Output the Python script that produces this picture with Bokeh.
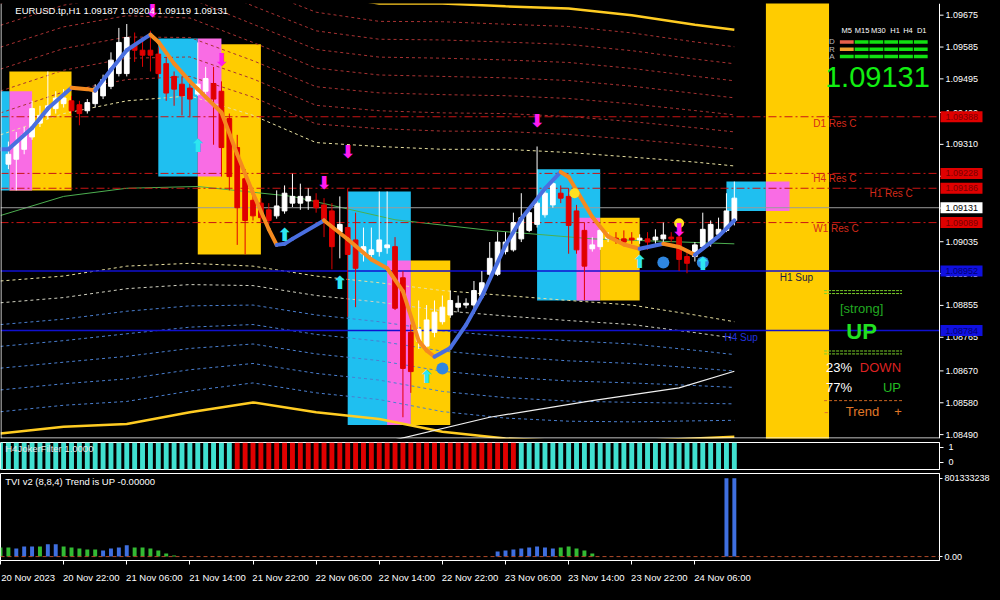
from bokeh.plotting import figure
from bokeh.models import (Range1d, FixedTicker, Span, LinearAxis, GlobalInlineStyleSheet)
from bokeh.layouts import column
from bokeh.embed import file_html
from bokeh.resources import INLINE
from bokeh.core.properties import value

FONT = "Liberation Sans"

# ---------------- data ----------------
bar = list(range(1, 94))
open_ = [1.09254, 1.09268, 1.09296, 1.09331, 1.09370, 1.09392, 1.09411, 1.09425, 1.09433, 1.09422,
         1.09405, 1.09425, 1.09447, 1.09474, 1.09510, 1.09510, 1.09590, 1.09576, 1.09576, 1.09565,
         1.09538, 1.09502, 1.09480, 1.09469, 1.09452, 1.09460, 1.09482, 1.09460, 1.09383, 1.09301,
         1.09213, 1.09152, 1.09144, 1.09125, 1.09108, 1.09122, 1.09144, 1.09144, 1.09150, 1.09152,
         1.09139, 1.09122, 1.09062, 1.09075, 1.09040, 1.09001, 1.08999, 1.09007, 1.09018, 1.09021,
         1.08933, 1.08779, 1.08754, 1.08740, 1.08779, 1.08809, 1.08828, 1.08850, 1.08856, 1.08856,
         1.08883, 1.08943, 1.08943, 1.09007, 1.09012, 1.09043, 1.09067, 1.09084, 1.09111, 1.09139,
         1.09172, 1.09163, 1.09122, 1.09067, 1.09015, 1.09021, 1.09043, 1.09045, 1.09043, 1.09045,
         1.09040, 1.09043, 1.09040, 1.09043, 1.09048, 1.09048, 1.08993, 1.08993, 1.09021, 1.09034,
         1.09056, 1.09067, 1.09095]
high = [1.09318, 1.09345, 1.09359, 1.09433, 1.09419, 1.09516, 1.09460, 1.09466, 1.09447, 1.09433,
        1.09438, 1.09480, 1.09507, 1.09570, 1.09639, 1.09650, 1.09626, 1.09612, 1.09631, 1.09584,
        1.09557, 1.09516, 1.09502, 1.09488, 1.09598, 1.09529, 1.09529, 1.09488, 1.09397, 1.09337,
        1.09240, 1.09172, 1.09158, 1.09144, 1.09180, 1.09194, 1.09227, 1.09199, 1.09186, 1.09172,
        1.09158, 1.09144, 1.09163, 1.09186, 1.09117, 1.09075, 1.09075, 1.09177, 1.09177, 1.09048,
        1.08952, 1.08801, 1.08869, 1.08856, 1.08869, 1.08883, 1.08897, 1.08883, 1.08875, 1.08924,
        1.08952, 1.09034, 1.09062, 1.09062, 1.09117, 1.09172, 1.09125, 1.09304, 1.09186, 1.09213,
        1.09194, 1.09186, 1.09139, 1.09089, 1.09048, 1.09084, 1.09062, 1.09062, 1.09067, 1.09062,
        1.09056, 1.09062, 1.09070, 1.09089, 1.09062, 1.09089, 1.09007, 1.09034, 1.09117, 1.09095,
        1.09103, 1.09172, 1.09205]
low = [1.09240, 1.09180, 1.09282, 1.09323, 1.09359, 1.09381, 1.09397, 1.09414, 1.09397, 1.09364,
       1.09397, 1.09414, 1.09438, 1.09466, 1.09502, 1.09502, 1.09543, 1.09529, 1.09516, 1.09496,
       1.09433, 1.09419, 1.09392, 1.09386, 1.09447, 1.09447, 1.09309, 1.09219, 1.09180, 1.09026,
       1.08999, 1.09095, 1.09089, 1.09084, 1.09100, 1.09114, 1.09133, 1.09125, 1.09125, 1.09117,
       1.09048, 1.08957, 1.08988, 1.08823, 1.08850, 1.08979, 1.08985, 1.08993, 1.09001, 1.08842,
       1.08539, 1.08608, 1.08732, 1.08732, 1.08765, 1.08801, 1.08820, 1.08836, 1.08847, 1.08847,
       1.08875, 1.08938, 1.08938, 1.08999, 1.09007, 1.09034, 1.09062, 1.09075, 1.09103, 1.09131,
       1.09144, 1.09001, 1.09001, 1.08869, 1.09007, 1.09012, 1.09034, 1.09029, 1.09026, 1.09029,
       1.09029, 1.09012, 1.09029, 1.09034, 1.09034, 1.08952, 1.08946, 1.08979, 1.09012, 1.09021,
       1.09048, 1.09062, 1.09081]
close = [1.09282, 1.09315, 1.09337, 1.09411, 1.09392, 1.09419, 1.09441, 1.09441, 1.09405, 1.09397,
         1.09428, 1.09469, 1.09493, 1.09548, 1.09598, 1.09612, 1.09576, 1.09562, 1.09562, 1.09510,
         1.09455, 1.09466, 1.09447, 1.09438, 1.09480, 1.09496, 1.09438, 1.09301, 1.09219, 1.09131,
         1.09095, 1.09108, 1.09103, 1.09095, 1.09136, 1.09172, 1.09163, 1.09163, 1.09163, 1.09131,
         1.09097, 1.09021, 1.09084, 1.08999, 1.08960, 1.09021, 1.09012, 1.09040, 1.09026, 1.08847,
         1.08677, 1.08668, 1.08787, 1.08814, 1.08836, 1.08850, 1.08869, 1.08861, 1.08861, 1.08897,
         1.08919, 1.08988, 1.09034, 1.09034, 1.09089, 1.09103, 1.09117, 1.09144, 1.09172, 1.09199,
         1.09158, 1.09081, 1.09012, 1.08966, 1.09026, 1.09067, 1.09048, 1.09040, 1.09034, 1.09040,
         1.09045, 1.09034, 1.09048, 1.09054, 1.09043, 1.08985, 1.08974, 1.09026, 1.09070, 1.09084,
         1.09070, 1.09122, 1.09158]

# smooth trend line (key points)
trend_x = [0, 1, 4, 6, 9, 11, 12, 14, 16, 18, 19, 20, 22, 24, 25, 28, 30, 32, 34, 35, 36, 37, 41,
           44, 47, 49, 51, 53, 54, 55, 57, 59, 61, 64, 66, 69, 71, 72, 75, 77, 79, 81, 84, 86, 88, 91, 93]
trend_y = [1.09296, 1.09296, 1.09356, 1.09411, 1.09470, 1.09466, 1.09462, 1.09521, 1.09576, 1.09606,
           1.09620, 1.09600, 1.09538, 1.09488, 1.09466, 1.09400, 1.09282, 1.09172, 1.09070, 1.09026,
           1.09029, 1.09043, 1.09095, 1.09042, 1.08985, 1.08960, 1.08895, 1.08755, 1.08728, 1.08710,
           1.08735, 1.08800, 1.08880, 1.09025, 1.09100, 1.09185, 1.09232, 1.09218, 1.09105, 1.09050,
           1.09027, 1.09015, 1.09029, 1.09020, 1.08998, 1.09050, 1.09095]

# envelope bands (inner and outer lines; the lines between are evenly spaced)
env_x = [0, 8, 16, 24, 32, 40, 48, 56, 64, 72, 80, 88, 93]
upper_inner = [1.09337, 1.09397, 1.09433, 1.09447, 1.09392, 1.09315, 1.09304, 1.09296, 1.09296,
               1.09287, 1.09274, 1.09260, 1.09249]
upper_outer = [1.09832, 1.09887, 1.09914, 1.09887, 1.09804, 1.09736, 1.09708, 1.09708, 1.09700,
               1.09694, 1.09675, 1.09648, 1.09634]
lower_inner = [1.08924, 1.08938, 1.08966, 1.08974, 1.08966, 1.08938, 1.08919, 1.08897, 1.08883,
               1.08869, 1.08856, 1.08828, 1.08809]
lower_outer = [1.08493, 1.08512, 1.08520, 1.08553, 1.08581, 1.08553, 1.08534, 1.08498, 1.08479,
               1.08471, 1.08471, 1.08479, 1.08484]

# moving averages
green_x = [0, 8, 16, 25, 37, 50, 62, 75, 93]
green_y = [1.09109, 1.09163, 1.09186, 1.09191, 1.09163, 1.09097, 1.09067, 1.09043, 1.09029]
white_x = [49, 62, 75, 86, 93]
white_y = [1.08470, 1.08539, 1.08586, 1.08622, 1.08669]

# zones (boxes)
box_left = [1.125, 1.125, 0, 25, 20, 25, 44, 49, 52, 68, 73, 76, 92]
box_right = [9, 4, 1.125, 33, 25, 28, 52, 52, 57, 76, 76, 81, 97]
box_top = [1.09516, 1.09460, 1.09460, 1.09593, 1.09609, 1.09609, 1.09177, 1.08982, 1.08982,
           1.09240, 1.09103, 1.09103, 1.09205]
box_bottom = [1.09180, 1.09180, 1.09180, 1.08999, 1.09219, 1.09219, 1.08517, 1.08517, 1.08517,
              1.08869, 1.08869, 1.08869, 1.09122]
box_kind = ["y", "p", "c", "y", "c", "p", "c", "p", "y", "c", "p", "y", "c"]
band_left, band_right = 97, 105
last_box = (97, 100, 1.09205, 1.09122)

# signal arrows / dots
down_x = [19.25, 28, 44, 41, 68, 86]
down_y = [1.09688, 1.09549, 1.09290, 1.09202, 1.09378, 1.09070]
up_x = [25, 36, 43, 54, 81, 89]
up_y = [1.09307, 1.09054, 1.08919, 1.08655, 1.08979, 1.08974]
bdot_x = [56, 84, 89]
bdot_y = [1.08677, 1.08976, 1.08976]
ydot_x = [72.75, 86]
ydot_y = [1.09172, 1.09087]

# levels
res_price = [1.09388, 1.09228, 1.09186, 1.09089]
res_name = ["D1 Res C", "H4 Res C", "H1 Res C", "W1 Res C"]
sup_price = [1.08952, 1.08784]
sup_name = ["H1 Sup", "H4 Sup"]
last_price = 1.09131

price_ticks = [1.09675, 1.09585, 1.09495, 1.09400, 1.09310, 1.09220, 1.09130, 1.09035, 1.08945,
               1.08855, 1.08765, 1.08670, 1.08580, 1.08490]

time_ticks = [0, 8, 16, 24, 32, 40, 48, 56, 64, 72, 80, 88]
time_labels = ["20 Nov 2023", "20 Nov 22:00", "21 Nov 06:00", "21 Nov 14:00", "21 Nov 22:00",
               "22 Nov 06:00", "22 Nov 14:00", "22 Nov 22:00", "23 Nov 06:00", "23 Nov 14:00",
               "23 Nov 22:00", "24 Nov 06:00"]

# dashboard
tf_labels = ["M5", "M15", "M30", "H1", "H4", "D1"]
row_labels = ["D", "R", "A"]
signal_colors = [["#E8604C", "#11E011", "#11E011", "#11E011", "#11E011", "#11E011"],
                 ["#F0A030", "#11E011", "#11E011", "#11E011", "#11E011", "#11E011"],
                 ["#11E011", "#11E011", "#11E011", "#11E011", "#11E011", "#11E011"]]

# sub-windows
all_bars = list(range(0, 94))
joker_state = ["up"] * 30 + ["down"] * 36 + ["up"] * 28
tvi_val = ([94e6, 94e6, 83e6, 104e6, 104e6, 104e6, 125e6, 125e6, 104e6, 94e6, 83e6, 73e6, 73e6,
            62e6, 83e6, 94e6, 115e6, 94e6, 94e6, 83e6, 62e6, 31e6, 10e6]
           + [0.0] * 40
           + [52e6, 62e6, 73e6, 83e6, 94e6, 104e6, 94e6, 83e6, 94e6, 104e6, 83e6, 62e6, 31e6]
           + [0.0] * 16
           + [801333238.0, 801333238.0])
tvi_dir = (["g", "g", "b", "b", "b", "g", "b", "b", "g", "g", "g", "g", "g", "b", "b", "b", "b",
            "g", "g", "g", "g", "g", "g"]
           + ["g"] * 40 + ["b"] * 8 + ["g"] * 5 + ["g"] * 16 + ["b", "b"])

# ---------------- layout ----------------
FRAME_W = 939          # width of the chart area (bars 0..119)
AXIS_W = 45            # width of the price scale
NBARS = 119.0
PPB = FRAME_W / NBARS  # pixels per bar
YMIN, YMAX = 1.08479, 1.09708


def X(px):
    """reference-layout x pixel -> bar coordinate"""
    return (px - 3) / 8.0


def Y(py):
    """reference-layout y pixel -> price"""
    return 1.09675 - (py - 17) * 0.0000275


def PX(n):
    """n screen pixels expressed in bars"""
    return n / PPB


PY = (YMAX - YMIN) / 435.0   # price per screen pixel in main frame

BOXC = {"y": "#FFCC00", "p": "#F96CE4", "c": "#1FBFF0"}

# main chart: the frame also holds the price scale column on the right
p = figure(output_backend="svg", toolbar_location=None, frame_width=FRAME_W + AXIS_W,
           frame_height=435, x_range=Range1d(0, NBARS + AXIS_W / PPB),
           y_range=Range1d(YMIN, YMAX), x_axis_location=None, y_axis_location=None,
           background_fill_color="black", border_fill_color="black", outline_line_color=None,
           min_border_left=0, min_border_right=0, min_border_top=3, min_border_bottom=3)
p.grid.visible = False

# zones
for l, r, t, b, k in zip(box_left, box_right, box_top, box_bottom, box_kind):
    p.quad(left=[l], right=[r], top=[t], bottom=[b], fill_color=BOXC[k], line_color=None)
p.quad(left=[band_left], right=[band_right], top=[YMAX + 0.001], bottom=[YMIN - 0.001],
       fill_color="#FFCC00", line_color=None)
p.quad(left=[last_box[0]], right=[last_box[1]], top=[last_box[2]], bottom=[last_box[3]],
       fill_color=BOXC["p"], line_color=None)

# envelope lines
for k in range(8):
    ys = [u + (o - u) * k / 8.0 for u, o in zip(upper_inner, upper_outer)]
    p.line(env_x, ys, line_color="#E8E0A0" if k == 0 else "#A83232", line_dash="3 3", line_width=1)
p.line(env_x, upper_outer, line_color="#FFCC22", line_width=2.5)
for k in range(7):
    ys = [u + (o - u) * k / 7.0 for u, o in zip(lower_inner, lower_outer)]
    col = "#E8E0A0" if k == 0 else ("#D0D0C0" if k == 1 else "#4A7FD0")
    p.line(env_x, ys, line_color=col, line_dash="3 3", line_width=1)
p.line(env_x, lower_outer, line_color="#FFCC22", line_width=2.5)

# moving averages
p.line(green_x, green_y, line_color="#4CAF50", line_width=1)
p.line(white_x, white_y, line_color="#F0F0F0", line_width=1.2)

# level lines (across the chart area)
for lv in res_price:
    p.segment(x0=[0], y0=[lv], x1=[NBARS], y1=[lv], line_color="#C81414",
              line_dash="8 3 2 3", line_width=1)
for lv in sup_price:
    p.segment(x0=[0], y0=[lv], x1=[NBARS], y1=[lv], line_color="#1010D0", line_width=1.5)
p.segment(x0=[0], y0=[last_price], x1=[NBARS], y1=[last_price], line_color="#9A9A9A",
          line_width=1)

res_lx = [X(827), X(827), X(884), X(827)]
res_ly = [Y(128), Y(185), Y(200), Y(236)]
p.text(x=res_lx, y=res_ly, text=res_name, text_color="#D42A1A", text_font=value(FONT),
       text_font_size="10px", text_baseline="middle", text_align="left")
p.text(x=[X(793)], y=[Y(287)], text=[sup_name[0]], text_color="#202040", text_font=value(FONT),
       text_font_size="10px", text_baseline="middle", text_align="left")
p.text(x=[X(737)], y=[Y(348)], text=[sup_name[1]], text_color="#2233DD", text_font=value(FONT),
       text_font_size="10px", text_baseline="middle", text_align="left")

# candles
up_c = [c >= o for o, c in zip(open_, close)]
ccol = ["#FFFFFF" if u else "#E00000" for u in up_c]
p.segment(x0=bar, y0=high, x1=bar, y1=low, line_color=ccol, line_width=1)
p.vbar(x=bar, width=0.6, top=[max(o, c) for o, c in zip(open_, close)],
       bottom=[min(o, c) for o, c in zip(open_, close)], fill_color=ccol, line_color=ccol)

# trend line coloured by direction
tcol = ["#4A6FE0" if y1 >= y0 else "#F58A1F" for y0, y1 in zip(trend_y[:-1], trend_y[1:])]
p.segment(x0=trend_x[:-1], y0=trend_y[:-1], x1=trend_x[1:], y1=trend_y[1:], line_color=tcol,
          line_width=4, line_cap="round")

# dots and arrows
p.scatter(bdot_x, bdot_y, size=12, fill_color="#2F86E0", line_color=None)
p.scatter(ydot_x, ydot_y, size=10, fill_color="#FFE020", line_color=None)
p.text(x=down_x, y=down_y, text=["⬇"] * len(down_x), text_color="#FF1CF0",
       text_font=value("DejaVu Sans"), text_font_size="18px", text_font_style="bold",
       text_align="center", text_baseline="middle")
p.text(x=up_x, y=up_y, text=["⬆"] * len(up_x), text_color="#2EE6F0",
       text_font=value("DejaVu Sans"), text_font_size="18px", text_font_style="bold",
       text_align="center", text_baseline="middle")

# header
p.text(x=[X(18)], y=[Y(12)], text=["EURUSD.tp,H1  1.09187 1.09204 1.09119 1.09131"],
       text_color="white", text_font=value(FONT), text_font_size="9.5px",
       text_baseline="middle", text_align="left")

# dashboard
col_centers = [861, 876, 891, 906, 921, 936]
lab_centers = [861, 876.5, 893, 910, 923, 937]
row_centers = [44.5, 52, 59.5]
p.text(x=[X(c) for c in lab_centers], y=[Y(33)] * 6, text=tf_labels, text_color="white",
       text_font=value(FONT), text_font_size="7.5px", text_align="center", text_baseline="middle")
p.text(x=[X(846)] * 3, y=[Y(r) for r in row_centers], text=row_labels, text_color="#BBBBBB",
       text_font=value(FONT), text_font_size="8px", text_align="center", text_baseline="middle")
for ri, rc in enumerate(row_centers):
    p.quad(left=[X(c - 7) for c in col_centers], right=[X(c + 7) for c in col_centers],
           top=[Y(rc - 1.8)] * 6, bottom=[Y(rc + 1.8)] * 6, fill_color=signal_colors[ri],
           line_color=None)
p.text(x=[X(892)], y=[Y(80)], text=["1.09131"], text_color="#11EE11", text_font=value(FONT),
       text_font_size="29px", text_align="center", text_baseline="middle")
for yy in (300, 303, 362, 365):
    p.line([X(838), X(917)], [Y(yy), Y(yy)], line_color="#7BD02A", line_dash="3 1", line_width=1)
p.text(x=[X(876)], y=[Y(318)], text=["[strong]"], text_color="#22AA22", text_font=value(FONT),
       text_font_size="13px", text_align="center", text_baseline="middle")
p.text(x=[X(876)], y=[Y(342)], text=["UP"], text_color="#22E022", text_font=value(FONT),
       text_font_size="22px", text_font_style="bold", text_align="center", text_baseline="middle")
p.text(x=[X(840), X(840)], y=[Y(379), Y(399)], text=["23%", "77%"], text_color="white",
       text_font=value(FONT), text_font_size="13px", text_align="left", text_baseline="middle")
p.text(x=[X(916)], y=[Y(379)], text=["DOWN"], text_color="#DD2222", text_font=value(FONT),
       text_font_size="13px", text_align="right", text_baseline="middle")
p.text(x=[X(916)], y=[Y(399)], text=["UP"], text_color="#22BB22", text_font=value(FONT),
       text_font_size="13px", text_align="right", text_baseline="middle")
p.line([X(838), X(917)], [Y(413), Y(413)], line_color="#CC6622", line_dash="3 2", line_width=1)
p.text(x=[X(840), X(877), X(913)], y=[Y(424)] * 3, text=["-", "Trend", "+"],
       text_color="#E07828", text_font=value(FONT), text_font_size="13px", text_align="center",
       text_baseline="middle")

# frame lines and price scale
p.segment(x0=[PX(0.5), 0], y0=[YMIN, YMIN + 0.5 * PY], x1=[PX(0.5), NBARS],
          y1=[YMAX, YMIN + 0.5 * PY], line_color="white", line_width=1)
p.segment(x0=[NBARS], y0=[YMIN], x1=[NBARS], y1=[YMAX], line_color="white", line_width=1)
n = len(price_ticks)
p.segment(x0=[NBARS] * n, y0=price_ticks, x1=[NBARS + PX(4)] * n, y1=price_ticks,
          line_color="white", line_width=1)
p.text(x=[NBARS + PX(6)] * n, y=price_ticks, text=[f"{t:.5f}" for t in price_ticks],
       text_color="white", text_font=value(FONT), text_font_size="9px", text_align="left",
       text_baseline="middle")

# price tags on the scale
tag_price = [res_price[0], res_price[1], res_price[2], last_price, res_price[3]] + sup_price
tag_bg = ["#E00000", "#E00000", "#E00000", "#FFFFFF", "#E00000", "#1010E0", "#1010E0"]
tag_fg = ["#7A0000", "#7A0000", "#7A0000", "#000000", "#7A0000", "#000070", "#000070"]
p.quad(left=[NBARS + PX(1)] * len(tag_price), right=[NBARS + PX(43)] * len(tag_price),
       top=[t + 5.5 * PY for t in tag_price], bottom=[t - 5.5 * PY for t in tag_price],
       fill_color=tag_bg, line_color=None)
p.text(x=[NBARS + PX(6)] * len(tag_price), y=tag_price, text=[f"{t:.5f}" for t in tag_price],
       text_color=tag_fg, text_font=value(FONT), text_font_size="9px", text_align="left",
       text_baseline="middle")

xr = Range1d(0, NBARS)

# ---------------- Joker filter panel ----------------
J0, J1 = -0.5, 1.3
pj = figure(output_backend="svg", toolbar_location=None, frame_width=FRAME_W, frame_height=27,
            x_range=xr, y_range=Range1d(J0, J1), x_axis_location=None, y_axis_location="right",
            background_fill_color="black", border_fill_color="black", outline_line_color="white",
            min_border_left=0, min_border_right=AXIS_W, min_border_top=1, min_border_bottom=3)
pj.grid.visible = False
ja = pj.yaxis[0]
ja.ticker = FixedTicker(ticks=[0, 1])
ja.major_label_overrides = {0: "0", 1: "1"}
ja.major_label_text_color = "white"
ja.major_label_text_font = FONT
ja.major_label_text_font_size = "9px"
ja.axis_line_color = "white"
ja.major_tick_line_color = "white"
ja.major_tick_out = 4
ja.major_tick_in = 0
ja.minor_tick_line_color = None
jcol = ["#40E0D0" if s == "up" else "#E00000" for s in joker_state]
pj.vbar(x=all_bars, width=0.62, top=J1, bottom=J0, fill_color=jcol, line_color=None)
pj.text(x=[0.6], y=[0.87], text=["H4JokerFilter 1.0000"], text_color="#E8E8E8",
        text_font=value(FONT), text_font_size="9.5px", text_baseline="middle", text_align="left")

# ---------------- TVI panel ----------------
pt = figure(output_backend="svg", toolbar_location=None, frame_width=FRAME_W, frame_height=87,
            x_range=xr, y_range=Range1d(-40e6, 850e6), y_axis_location="right",
            background_fill_color="black", border_fill_color="black", outline_line_color="white",
            min_border_left=0, min_border_right=AXIS_W, min_border_top=1, min_border_bottom=2)
pt.grid.visible = False
ta = pt.yaxis[0]
ta.ticker = FixedTicker(ticks=[0, 801333238])
ta.major_label_overrides = {0: "0.00", 801333238: "801333238"}
ta.major_label_text_color = "white"
ta.major_label_text_font = FONT
ta.major_label_text_font_size = "9px"
ta.axis_line_color = "white"
ta.major_tick_line_color = "white"
ta.major_tick_out = 3
ta.major_tick_in = 0
ta.major_label_standoff = 2
ta.minor_tick_line_color = None

# time axis: tick marks at the bar, labels starting at the tick (MT4 style)
xa = pt.xaxis[0]
xa.ticker = FixedTicker(ticks=time_ticks)
xa.major_label_overrides = {t: "" for t in time_ticks}
xa.major_label_text_font_size = "1px"
xa.major_label_standoff = 0
xa.axis_line_color = "white"
xa.major_tick_line_color = "white"
xa.major_tick_out = 4
xa.major_tick_in = 0
xa.minor_tick_line_color = None
lab_ticks = [t + 3.5 for t in time_ticks]
xa2 = LinearAxis(ticker=FixedTicker(ticks=lab_ticks),
                 major_label_overrides={t: l for t, l in zip(lab_ticks, time_labels)},
                 major_label_text_color="white", major_label_text_font=FONT,
                 major_label_text_font_size="9.5px", axis_line_color=None,
                 major_tick_line_color=None, minor_tick_line_color=None, major_label_standoff=1)
pt.add_layout(xa2, "below")

tcols = ["#33BB33" if d == "g" else "#3F6FE0" for d in tvi_dir]
pt.add_layout(Span(location=0, dimension="width", line_color="#B04A2A", line_dash="4 3",
                   line_width=1))
pt.vbar(x=all_bars, width=0.5, top=tvi_val, bottom=0, fill_color=tcols, line_color=None)
pt.text(x=[0.6], y=[768e6], text=["TVI v2 (8,8,4) Trend is UP -0.00000"], text_color="white",
        text_font=value(FONT), text_font_size="9.5px", text_baseline="middle", text_align="left")

layout = column(p, pj, pt, spacing=0,
                stylesheets=[GlobalInlineStyleSheet(css="html, body { background-color: #000; }")])
open("out.html", "w").write(file_html(layout, INLINE))
